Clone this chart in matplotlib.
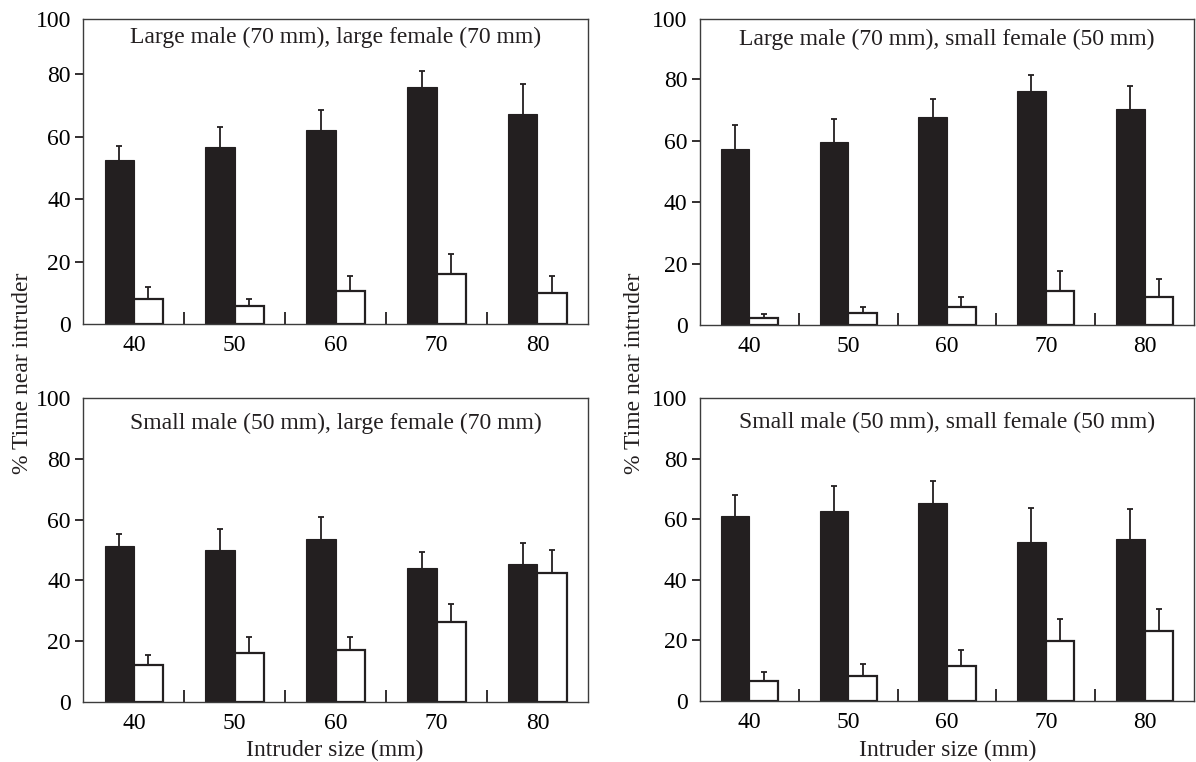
import matplotlib
matplotlib.use("Agg")
import matplotlib.pyplot as plt

plt.rcParams['font.family'] = ['Liberation Serif', 'DejaVu Serif']

sizes = [40, 50, 60, 70, 80]
separators = [45, 55, 65, 75]
ytick_vals = [0, 20, 40, 60, 80, 100]

titles = ["Large male (70 mm), large female (70 mm)",
          "Large male (70 mm), small female (50 mm)",
          "Small male (50 mm), large female (70 mm)",
          "Small male (50 mm), small female (50 mm)"]

# black bars and their upper error
solid_ll = [52.5, 56.7, 62.1, 75.7, 67.1]
solid_ll_err = [4.4, 6.5, 6.4, 5.2, 9.6]
solid_ls = [57.2, 59.5, 67.8, 76.2, 70.3]
solid_ls_err = [8.0, 7.7, 5.9, 5.3, 7.6]
solid_sl = [51.2, 49.9, 53.7, 44.0, 45.3]
solid_sl_err = [4.2, 7.1, 7.2, 5.5, 7.1]
solid_ss = [61.1, 62.8, 65.4, 52.5, 53.5]
solid_ss_err = [6.9, 8.1, 7.2, 11.3, 9.8]

# white bars and their upper error
open_ll = [8.1, 5.7, 10.6, 16.0, 10.0]
open_ll_err = [3.8, 2.3, 4.8, 6.6, 5.5]
open_ls = [2.3, 3.9, 5.7, 11.2, 9.2]
open_ls_err = [1.3, 2.0, 3.5, 6.4, 5.7]
open_sl = [12.2, 16.2, 17.0, 26.3, 42.5]
open_sl_err = [3.2, 5.2, 4.4, 6.0, 7.5]
open_ss = [6.6, 8.3, 11.6, 19.9, 22.9]
open_ss_err = [3.0, 3.9, 5.0, 7.0, 7.3]

panels = [
    (solid_ll, solid_ll_err, open_ll, open_ll_err),
    (solid_ls, solid_ls_err, open_ls, open_ls_err),
    (solid_sl, solid_sl_err, open_sl, open_sl_err),
    (solid_ss, solid_ss_err, open_ss, open_ss_err),
]

# figure-fraction boxes, and where the top of each frame sits on the y scale
boxes = [[0.0697, 0.5744, 0.4219, 0.4003],
         [0.5853, 0.5735, 0.4130, 0.4012],
         [0.0697, 0.0791, 0.4219, 0.3982],
         [0.5853, 0.0804, 0.4130, 0.3972]]
ytops = [97.5, 99.5, 100, 100]
title_y = [0.940, 0.935, 0.917, 0.918]

ink = '#231f20'
frame = '#3c3c3c'
fs = 17
w = 2.9


def up_errors(ax, x, y, err):
    # only the upper half of the error bar, no cap at the bar top
    _, caps, _ = ax.errorbar(x, y, yerr=[[0] * len(err), err], fmt='none',
                             ecolor=ink, elinewidth=1.3, capsize=2.5,
                             capthick=1.3, zorder=3)
    caps[0].set_visible(False)


fig = plt.figure(figsize=(11.96, 7.62), dpi=100)

for i in range(4):
    ax = fig.add_axes(boxes[i])
    s, se, o, oe = panels[i]
    xs = [x - w / 2 for x in sizes]
    xo = [x + w / 2 for x in sizes]
    ax.bar(xs, s, width=w, color=ink, edgecolor=ink, linewidth=0.8, zorder=2)
    ax.bar(xo, o, width=w, color='white', edgecolor=ink, linewidth=1.6, zorder=2)
    up_errors(ax, xs, s, se)
    up_errors(ax, xo, o, oe)

    ax.set_xlim(35, 85)
    ax.set_ylim(0, ytops[i])
    ax.set_xticks(sizes)
    ax.set_xticklabels([str(v) for v in sizes])
    ax.set_xticks(separators, minor=True)
    ax.tick_params(axis='x', which='major', length=0, pad=8, labelsize=fs)
    ax.tick_params(axis='x', which='minor', direction='in', length=8.5,
                   width=1.3, color=ink)
    pos = ytick_vals[:-1] + [ytops[i]]
    ax.set_yticks(pos)
    ax.set_yticklabels([str(v) for v in ytick_vals])
    ax.tick_params(axis='y', direction='out', length=6, width=1.3,
                   color=ink, pad=3, labelsize=fs)
    ticks = ax.yaxis.get_major_ticks()
    ticks[0].tick1line.set_visible(False)
    ticks[-1].tick1line.set_visible(False)
    for sp in ax.spines.values():
        sp.set_color(frame)
        sp.set_linewidth(1.0)
    ax.text(0.5, title_y[i], titles[i], transform=ax.transAxes,
            ha='center', va='center', fontsize=fs, color=ink)

fig.text(22 / 1196, 1 - 373 / 762, "% Time near intruder", rotation=90,
         ha='center', va='center', fontsize=fs, color=ink)
fig.text(634 / 1196, 1 - 373 / 762, "% Time near intruder", rotation=90,
         ha='center', va='center', fontsize=fs, color=ink)
fig.text(335 / 1196, 1 - 750 / 762, "Intruder size (mm)",
         ha='center', va='center', fontsize=fs, color=ink)
fig.text(948 / 1196, 1 - 750 / 762, "Intruder size (mm)",
         ha='center', va='center', fontsize=fs, color=ink)

fig.savefig("out.png", dpi=100)
